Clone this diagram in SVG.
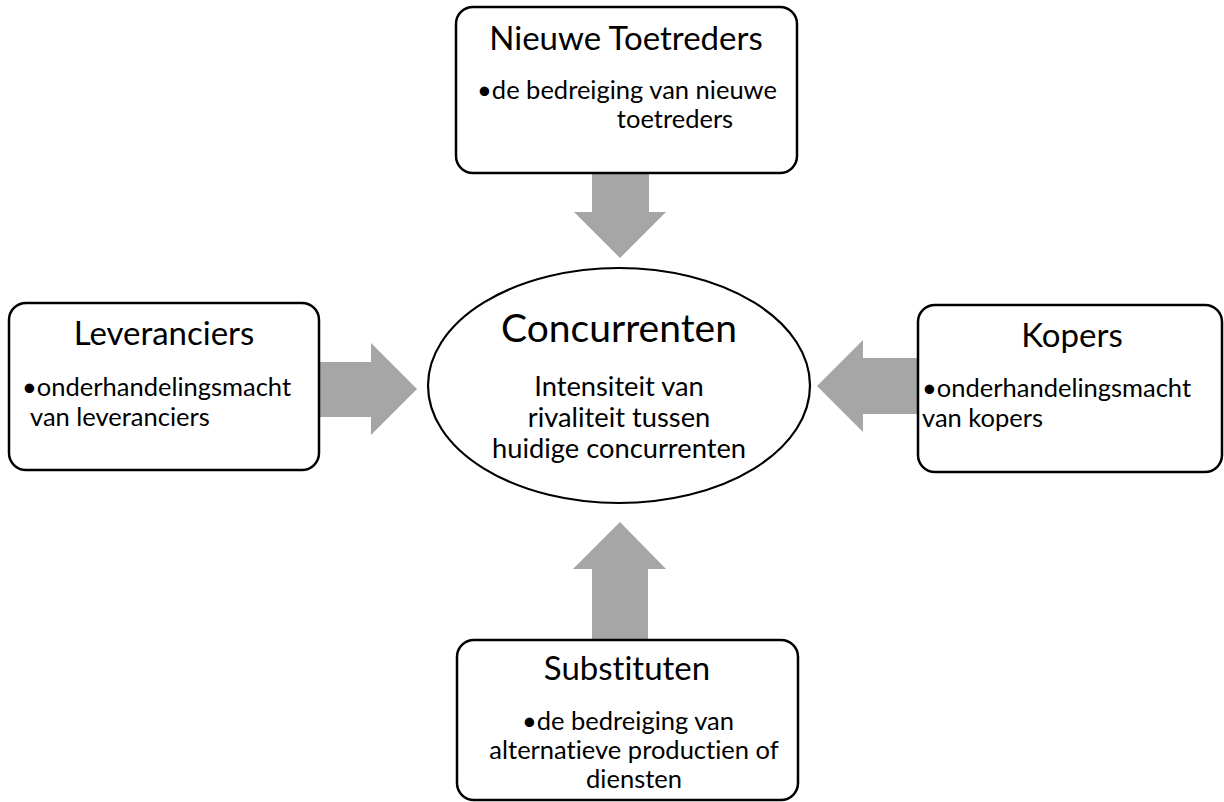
<svg xmlns="http://www.w3.org/2000/svg" width="1224" height="802" viewBox="0 0 1224 802">
  <style>
    .box { fill: #ffffff; stroke: #000000; stroke-width: 2.5; }
    .oval { fill: #ffffff; stroke: #000000; stroke-width: 2.2; }
    .arrow { fill: #A6A6A6; stroke: none; }
    text { font-family: Lato, "Open Sans", "Liberation Sans", sans-serif; fill: #000000; font-variant-ligatures: none; }
    .title { font-size: 33px; }
    .body { font-size: 25.5px; }
    .ctitle { font-size: 39px; }
    .cbody { font-size: 27.3px; }
    .mid { text-anchor: middle; }
  </style>

  <!-- block arrows pointing at the central oval -->
  <g id="connectors">
    <polygon class="arrow" points="592,173 649,173 649,212 666,212 620,258 574,212 592,212"/>
    <polygon class="arrow" points="592,639 648,639 648,569 666,569 620,522 573,569 592,569"/>
    <polygon class="arrow" points="319,362 371,362 371,343 417,389 371,435 371,417 319,417"/>
    <polygon class="arrow" points="918,358 863,358 863,340 817,386 863,432 863,414 918,414"/>
  </g>

  <g id="nieuwe-toetreders">
    <rect class="box" x="456" y="7" width="341" height="166" rx="17" ry="17"/>
    <text class="title mid" x="626" y="50">Nieuwe Toetreders</text>
    <text class="body mid" x="627" y="99">•de bedreiging van nieuwe</text>
    <text class="body mid" x="675" y="128">toetreders</text>
  </g>

  <g id="leveranciers">
    <rect class="box" x="9" y="303" width="310" height="167" rx="17" ry="17"/>
    <text class="title mid" x="164" y="345">Leveranciers</text>
    <text class="body" x="22" y="396">•onderhandelingsmacht</text>
    <text class="body" x="30" y="425.5">van leveranciers</text>
  </g>

  <g id="concurrenten">
    <ellipse class="oval" cx="619" cy="385.5" rx="191" ry="117.5"/>
    <text class="ctitle mid" x="619" y="342">Concurrenten</text>
    <text class="cbody mid" x="619" y="396">Intensiteit van</text>
    <text class="cbody mid" x="619" y="427">rivaliteit tussen</text>
    <text class="cbody mid" x="619" y="458">huidige concurrenten</text>
  </g>

  <g id="kopers">
    <rect class="box" x="918" y="305" width="304" height="167" rx="17" ry="17"/>
    <text class="title mid" x="1072" y="347">Kopers</text>
    <text class="body" x="922" y="397">•onderhandelingsmacht</text>
    <text class="body" x="922" y="426.5">van kopers</text>
  </g>

  <g id="substituten">
    <rect class="box" x="457" y="640" width="341" height="160" rx="17" ry="17"/>
    <text class="title mid" x="627" y="680">Substituten</text>
    <text class="body mid" x="628" y="730">•de bedreiging van</text>
    <text class="body mid" x="634" y="759">alternatieve productien of</text>
    <text class="body mid" x="634" y="788">diensten</text>
  </g>
</svg>
